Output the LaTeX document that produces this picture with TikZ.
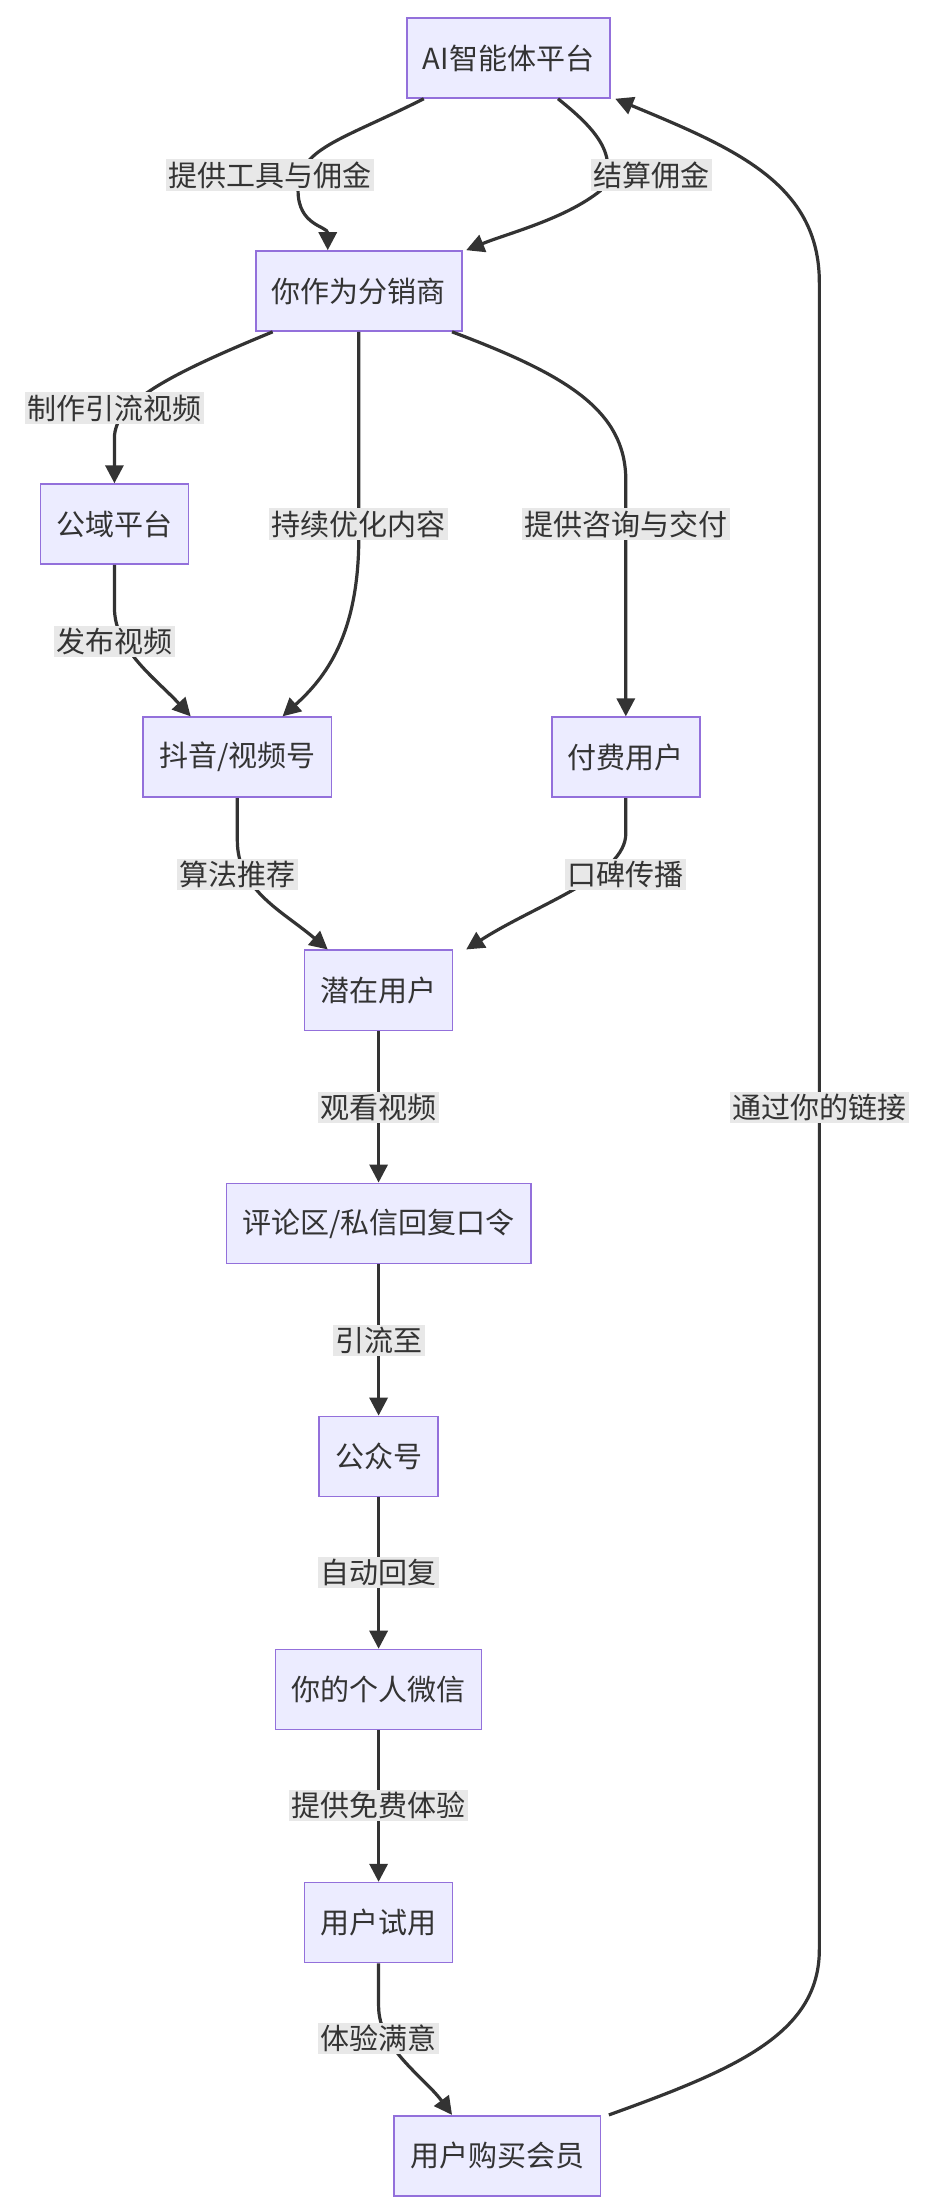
\documentclass[tikz,border=0pt]{standalone}
\usepackage{fontspec}
\setmainfont{Noto Sans CJK SC}
\usetikzlibrary{calc,arrows.meta}
\definecolor{nfill}{HTML}{ECECFF}
\definecolor{nline}{HTML}{9370DB}
\definecolor{ink}{HTML}{333333}
\begin{document}
\begin{tikzpicture}[x=0.706pt,y=-0.706pt,
  box/.style={draw=nline,fill=nfill,line width=0.8pt,minimum height=40pt,inner xsep=8pt,font=\fontsize{14.5}{16}\selectfont,text=ink},
  lab/.style={fill=black!9,inner sep=1.2pt,font=\fontsize{14.5}{16}\selectfont,text=ink},
  e/.style={draw=ink,line width=1.6pt,-{Triangle[length=9pt,width=9pt]}}]
\useasboundingbox (0,0) rectangle (660,1563);
\node[box] (ai) at (360,41) {AI智能体平台};
\node[box] (dist) at (254,206) {你作为分销商};
\node[box] (pub) at (81,371) {公域平台};
\node[box] (dy) at (168,536) {抖音/视频号};
\node[box] (paid) at (443,536) {付费用户};
\node[box] (pot) at (268,701) {潜在用户};
\node[box] (cm) at (268,866) {评论区/私信回复口令};
\node[box] (gzh) at (268,1031) {公众号};
\node[box] (wx) at (268,1196) {你的个人微信};
\node[box] (trial) at (268,1361) {用户试用};
\node[box] (buy) at (352,1526) {用户购买会员};

\draw[e] ($(ai.south)+(-60,0)$) .. controls (240,100) and (211,105) .. (211,135) .. controls (211,160) and (232,160) .. ($(dist.north)+(-22,0)$);
\draw[e] ($(ai.south)+(35,0)$) .. controls (420,90) and (440,110) .. (425,135) .. controls (400,155) and (360,165) .. ($(dist.north)+(76,0)$);
\draw[e] ($(dist.south)+(-61,0)$) .. controls (120,265) and (81,285) .. (81,310) -- (pub.north);
\draw[e] (dist.south) -- (254,380) .. controls (254,450) and (230,480) .. ($(dy.north)+(32,0)$);
\draw[e] ($(dist.south)+(66,0)$) .. controls (400,265) and (443,290) .. (443,340) -- (paid.north);
\draw[e] (pub.south) -- (81,430) .. controls (81,460) and (110,480) .. ($(dy.north)+(-33,0)$);
\draw[e] (dy.south) -- (168,595) .. controls (168,630) and (200,645) .. ($(pot.north)+(-36,0)$);
\draw[e] (paid.south) -- (443,590) .. controls (443,620) and (380,640) .. ($(pot.north)+(62,0)$);
\draw[e] (pot) -- (cm);
\draw[e] (cm) -- (gzh);
\draw[e] (gzh) -- (wx);
\draw[e] (wx) -- (trial);
\draw[e] (trial.south) -- (268,1420) .. controls (268,1450) and (300,1470) .. ($(buy.north)+(-32,0)$);
\draw[e] ($(buy.north)+(79,0)$) .. controls (520,1465) and (580,1440) .. (580,1380) -- (580,200) .. controls (580,130) and (520,105) .. ($(ai.south east)+(3,0)$);

\node[lab] (l1) at (191,124) {提供工具与佣金};
\node[lab] (l2) at (461,124) {结算佣金};
\node[lab] (l3) at (81,289) {制作引流视频};
\node[lab] (l4) at (254,371) {持续优化内容};
\node[lab] (l5) at (443,371) {提供咨询与交付};
\node[lab] (l6) at (81,454) {发布视频};
\node[lab] (l7) at (168,619) {算法推荐};
\node[lab] (l8) at (443,619) {口碑传播};
\node[lab] (l9) at (268,784) {观看视频};
\node[lab] (l10) at (268,949) {引流至};
\node[lab] (l11) at (268,1113) {自动回复};
\node[lab] (l12) at (268,1278) {提供免费体验};
\node[lab] (l13) at (268,1443) {体验满意};
\node[lab] (l14) at (580,784) {通过你的链接};
\end{tikzpicture}
\end{document}
